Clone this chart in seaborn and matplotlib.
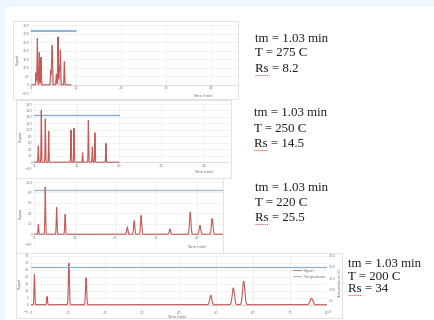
import numpy as np
import pandas as pd
import matplotlib
matplotlib.use("Agg")
import matplotlib.pyplot as plt
import seaborn as sns
from matplotlib.patches import Rectangle
from matplotlib.lines import Line2D

# peaks (time in min, signal)
p1_times = [1.11, 1.41, 1.85, 2.22, 4.37, 4.59, 4.74, 5.63, 6.0, 6.3, 6.52, 7.41]
p1_heights = [70, 272, 189, 161, 82, 150, 214, 62, 282, 105, 204, 136]
p2_times = [0.94, 1.65, 2.6, 3.4, 8.66, 9.37, 11.4, 12.76, 13.7, 14.3, 16.9]
p2_heights = [50, 160, 134, 95, 99, 105, 29, 129, 47, 91, 58]
p3_times = [1.0, 2.7, 5.5, 7.6, 22.9, 24.6, 26.3, 33.4, 38.4, 40.8, 43.8]
p3_heights = [19, 90, 51, 38, 14, 26, 36, 10, 42, 17, 30]
p4_times = [1.0, 4.4, 10.3, 14.95, 48.6, 54.7, 57.5, 75.8]
p4_heights = [21.6, 5.8, 29.5, 19.2, 6.7, 12.0, 16.8, 4.6]

# end of recorded run / temperature trace (min)
run_end = [8.9, 20, 46.4, 80]
temp_end = [10, 20, 46.4, 80]
# temperature trace level (signal scale for 1-3, right axis for 4)
temp_level = [315, 145, 85, 200]

tm_vals = ["1.03", "1.03", "1.03", "1.03"]
T_vals = ["275", "250", "220", "200"]
Rs_vals = ["8.2", "14.5", "25.5", "34"]

SIG = "#c65a56"
TEMP = ["#6f9fd2", "#7fa8d4", "#9cb5cc", "#8db2d3"]
GRID = "#ececec"
TICK = "#888888"

W, H = 435, 320


def px_rect(x0, y0, x1, y1):
    return [x0 / W, 1 - y1 / H, (x1 - x0) / W, (y1 - y0) / H]


def trace(times, heights, end, s0, k):
    x = np.linspace(0, end, 6000)
    y = np.zeros_like(x)
    for t, h in zip(times, heights):
        s = s0 + k * t
        y += h * np.exp(-0.5 * ((x - t) / s) ** 2)
    return pd.DataFrame({"time": x, "signal": y})


sns.set_style("white")
plt.rcParams["font.family"] = ["DejaVu Sans"]

fig = plt.figure(figsize=(W / 100, H / 100), dpi=100, facecolor="#eef7fc")
fig.patches.append(Rectangle((5 / W, 0), 1, 1 - 7 / H, transform=fig.transFigure,
                             facecolor="white", edgecolor="none", zorder=-3))

# screenshot frames
boxes = [(13, 21, 238, 99), (16, 100, 231, 178), (16, 178, 223, 253), (16, 253, 342, 318)]
for (x0, y0, x1, y1) in boxes:
    fig.patches.append(Rectangle((x0 / W, 1 - y1 / H), (x1 - x0) / W, (y1 - y0) / H,
                                 transform=fig.transFigure, facecolor="white",
                                 edgecolor="#e2e2e2", lw=0.7, zorder=-2))

axes_px = [(31, 25.3, 238, 93.3), (34.3, 104, 230, 168.7),
           (34.3, 182, 222.7, 244.7), (30.7, 255.7, 327, 311.7)]
xlims = [(0, 46), (0, 46.2), (0, 46.4), (0, 80)]
ylims = [(-50, 350), (-20, 180), (-20, 100), (-5, 35)]
ysteps = [50, 20, 20, 5]
time_lbl = [(0.83, -0.035), (0.867, -0.046), (0.862, -0.032), (0.493, -0.09)]
peaks = [(p1_times, p1_heights, 0.07, 0.0), (p2_times, p2_heights, 0.06, 0.0),
         (p3_times, p3_heights, 0.08, 0.0025), (p4_times, p4_heights, 0.1, 0.0035)]

for i in range(4):
    ax = fig.add_axes(px_rect(*axes_px[i]))
    ax.patch.set_alpha(0)
    ax.set_xlim(*xlims[i])
    ax.set_ylim(*ylims[i])
    ax.set_xticks(np.arange(0, xlims[i][1] + 0.1, 10))
    ax.set_yticks(np.arange(ylims[i][0], ylims[i][1] + 0.1, ysteps[i]))
    ax.grid(True, color=GRID, lw=0.5)
    for sp in ax.spines.values():
        sp.set_visible(False)
    if i < 3:
        ax.spines["bottom"].set_position(("data", 0))
    ax.tick_params(labelsize=2.6, colors=TICK, length=0, pad=1.2)
    if i == 3:
        ax.tick_params(axis="x", pad=-0.2)
    ax.axhline(0, color="#d8d8d8", lw=0.6, zorder=1)

    times, heights, s0, k = peaks[i]
    df = trace(times, heights, run_end[i], s0, k)
    sns.lineplot(data=df, x="time", y="signal", ax=ax, color=SIG, lw=0.8,
                 estimator=None, zorder=3)
    if i == 0:
        ax.fill_between(df["time"], 0, df["signal"], color=SIG, alpha=0.25, lw=0, zorder=2)

    ax.set_xlabel("")
    ax.set_ylabel("Signal", fontsize=2.6, color="#666666", labelpad=1.5)
    ax.text(time_lbl[i][0], time_lbl[i][1], "Time (min)", transform=ax.transAxes,
            fontsize=2.6, color="#666666", ha="center", va="center")

    if i < 3:
        ax.plot([0, temp_end[i]], [temp_level[i]] * 2, color=TEMP[i],
                lw=1.1 if i == 0 else 0.9, zorder=2)
    else:
        ax2 = ax.twinx()
        ax2.set_ylim(0, 250)
        ax2.set_yticks(np.arange(0, 251, 50))
        for sp in ax2.spines.values():
            sp.set_visible(False)
        ax2.tick_params(labelsize=2.6, colors=TICK, length=0, pad=1.2)
        ax2.set_ylabel("Temperature (C)", fontsize=2.6, color="#666666", labelpad=2)
        sns.lineplot(x=[0, temp_end[i]], y=[temp_level[i]] * 2, ax=ax2, color=TEMP[i],
                     lw=0.9, legend=False)
        handles = [Line2D([], [], color=SIG, lw=0.6), Line2D([], [], color=TEMP[i], lw=0.6)]
        ax2.legend(handles, ["Signal", "Temperature"], loc="upper left",
                   bbox_to_anchor=(0.88, 0.8), fontsize=2.4, frameon=False,
                   handlelength=2.5, labelcolor="#777777", borderpad=0, labelspacing=0.6)

# run conditions next to each screenshot
text_pos = [(255, [38.5, 53.5, 68.5]), (254, [113.3, 128.7, 144.3]),
            (255, [187.7, 203.3, 218.3]), (348, [264.3, 277.3, 289.3])]
for i, (x, ys) in enumerate(text_pos):
    lines = [f"tm = {tm_vals[i]} min", f"T = {T_vals[i]} C", f"Rs = {Rs_vals[i]}"]
    for s, y in zip(lines, ys):
        fig.text(x / W, 1 - y / H, s, fontsize=9.3, family="Liberation Serif",
                 color="#1a1a1a", ha="left", va="center")
    uy = 1 - (ys[2] + 6) / H
    fig.add_artist(Line2D([(x + 0.5) / W, (x + 13) / W], [uy, uy], color="#e04040",
                          lw=0.7, ls=(0, (1, 1))))

fig.savefig("out.png", dpi=100, facecolor=fig.get_facecolor())
